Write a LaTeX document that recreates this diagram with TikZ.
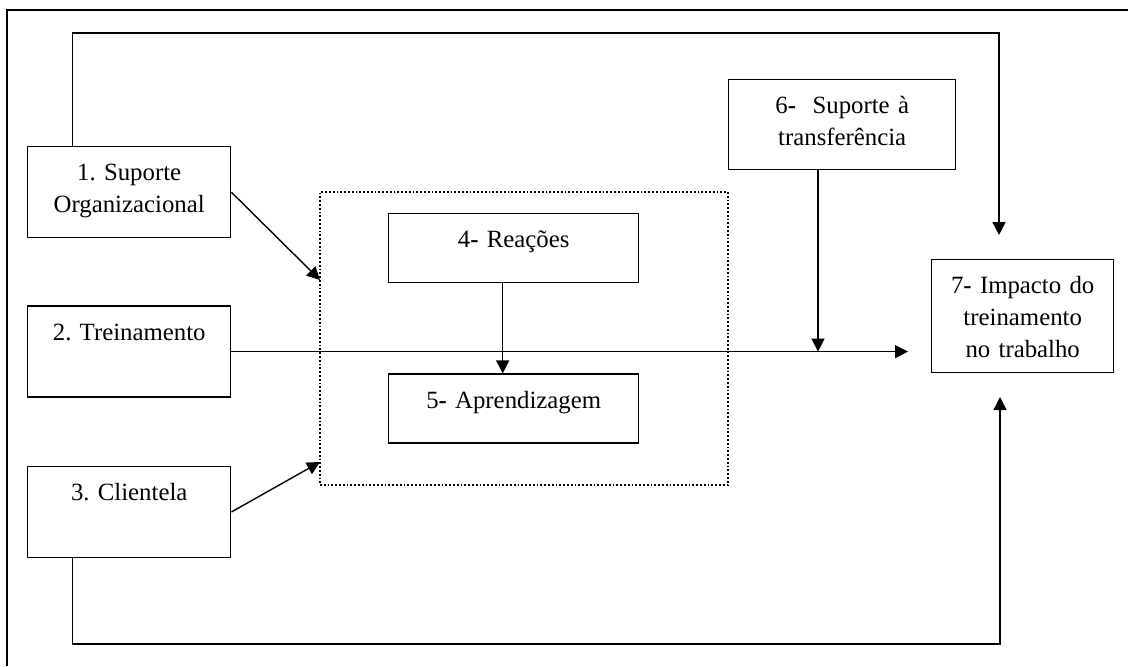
\documentclass[tikz,border=0pt]{standalone}
\usepackage{fontspec}
\setmainfont{Liberation Serif}
\usetikzlibrary{arrows.meta, positioning}
\frenchspacing

\begin{document}
\begin{tikzpicture}[
  x=0.5pt, y=-0.5pt,
  font=\fontsize{12.4}{16}\selectfont,
  box/.style={
    draw, line width=0.7pt,
    inner sep=0pt, align=center,
    text height=17pt
  },
  srcbox/.style={box, text width=101.5pt, text depth=28.5pt},
  midbox/.style={box, text width=125pt, text depth=17.5pt},
  arr/.style={-{Triangle[length=6.5pt, width=6.5pt]}, line width=0.7pt}
]
\useasboundingbox (0,0) rectangle (1128,666);
% moldura
\draw[line width=1pt] (7,666) -- (7,10) -- (1128,10);

\node[srcbox, anchor=north west] (org) at (27,146)
  {1. Suporte\\ Organizacional};
\node[srcbox, below=33.5pt of org] (trein) {2. Treinamento};
\node[srcbox, below=34pt of trein] (cli) {3. Clientela};

\node[midbox, anchor=north west] (reac) at (388,213)
  {4\textbf{-} Reações};
\node[midbox, below=45pt of reac] (aprend) {5\textbf{-} Aprendizagem};
\node[draw, densely dotted, line width=0.9pt,
  minimum width=204pt, minimum height=146.5pt] (grupo) at (524,338.5) {};

\node[box, text width=113.5pt, text depth=28pt, anchor=north west]
  (sup) at (728,79) {6\textbf{-}\ \ Suporte à\\ transferência};
\node[box, text width=91pt, text depth=39.5pt, anchor=north west]
  (imp) at (931,259) {7\textbf{-} Impacto do\\ treinamento\\ no trabalho};

\coordinate (g1) at (320,280);
\coordinate (g3) at (320,462);
\coordinate (alvo) at (908,350);
\coordinate (juncao) at (818,350);
\coordinate (topo) at (999,33);
\coordinate (cima) at (999,235);
\coordinate (fundo) at (1000,644);
\coordinate (baixo) at (1000,397);

\draw[arr] (org.east) -- (g1);
\draw[arr] (cli.east) -- (g3);
\draw[arr] (trein.east) -- (trein.east -| alvo);
\draw[arr] ([xshift=-5.5pt]reac.south) -- ([xshift=-5.5pt]aprend.north);
\draw[arr] (juncao |- sup.south) -- (juncao |- trein.east);
\draw[arr] ([xshift=-28.25pt]org.north) |- (topo) -- (cima);
\draw[arr] ([xshift=-28.25pt]cli.south) |- (fundo) -- (baixo);

\end{tikzpicture}
\end{document}
